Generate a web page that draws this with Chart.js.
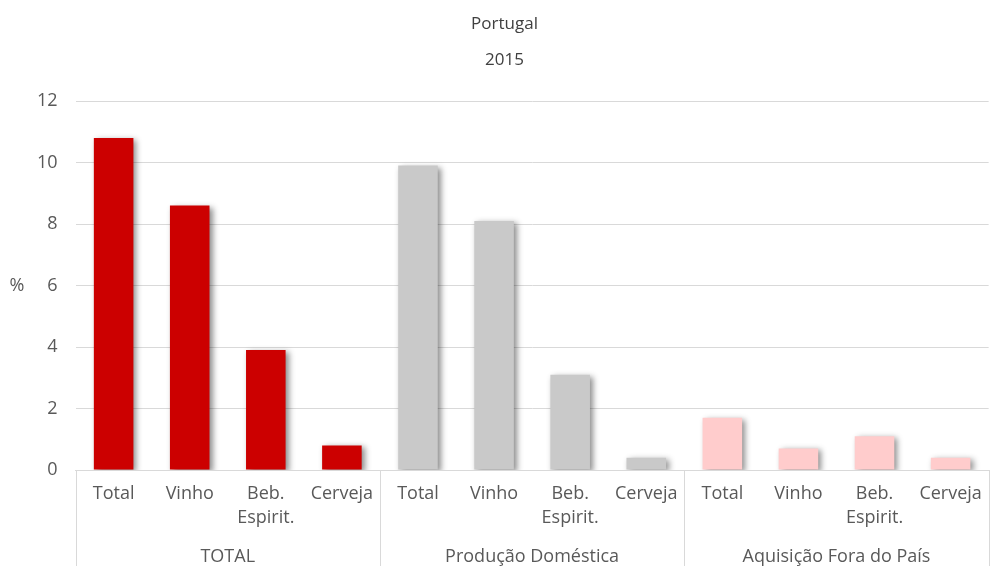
<!DOCTYPE html>
<html>
<head>
<meta charset="utf-8">
<script src="https://cdn.jsdelivr.net/npm/chart.js@4/dist/chart.umd.min.js"></script>
<style>
  html, body { margin: 0; padding: 0; background: #fff; }
  #wrap { width: 994px; height: 566px; position: relative; }
</style>
</head>
<body>
<div id="wrap"><canvas id="c" width="994" height="566"></canvas></div>
<script>
// ---- data ----
const groups = ['TOTAL', 'Produção Doméstica', 'Aquisição Fora do País'];
const subCategories = [['Total'], ['Vinho'], ['Beb.', 'Espirit.'], ['Cerveja']];
const totalValues = [10.8, 8.6, 3.9, 0.8];
const domesticValues = [9.9, 8.1, 3.1, 0.4];
const abroadValues = [1.7, 0.7, 1.1, 0.4];
const groupColors = ['#CC0000', '#C9C9C9', '#FFCCCC'];
const yTicks = [0, 2, 4, 6, 8, 10, 12];
const titleLines = ['Portugal', '2015'];
const yUnit = '%';

// build
const labels = [];
const values = [];
const colors = [];
[totalValues, domesticValues, abroadValues].forEach((arr, g) => {
  arr.forEach((v, i) => {
    labels.push(subCategories[i]);
    values.push(v);
    colors.push(groupColors[g]);
  });
});

const FONT = "'Open Sans', 'DejaVu Sans', sans-serif";
const TXT = '#595959';

const shadowPlugin = {
  id: 'barShadow',
  beforeDatasetsDraw(chart) {
    const ctx = chart.ctx;
    ctx.save();
    ctx.shadowColor = 'rgba(0,0,0,0.45)';
    ctx.shadowBlur = 6;
    ctx.shadowOffsetX = 3;
    ctx.shadowOffsetY = 2;
  },
  afterDatasetsDraw(chart) {
    chart.ctx.restore();
  }
};

const extrasPlugin = {
  id: 'extras',
  afterDraw(chart) {
    const ctx = chart.ctx;
    const x = chart.scales.x;
    const area = chart.chartArea;
    const n = labels.length;
    const per = subCategories.length;
    const half = (x.getPixelForValue(1) - x.getPixelForValue(0)) / 2;
    ctx.save();
    ctx.strokeStyle = '#D9D9D9';
    ctx.lineWidth = 1;
    for (let g = 0; g <= groups.length; g++) {
      let px = g * per < n ? x.getPixelForValue(g * per) - half : x.getPixelForValue(n - 1) + half;
      px = Math.round(px) + 0.5;
      ctx.beginPath();
      ctx.moveTo(px, area.bottom);
      ctx.lineTo(px, chart.height);
      ctx.stroke();
    }
    ctx.fillStyle = TXT;
    ctx.font = '18px ' + FONT;
    ctx.textAlign = 'center';
    ctx.textBaseline = 'middle';
    // group labels, centred under each group of categories
    groups.forEach((gName, g) => {
      const left = x.getPixelForValue(g * per) - half;
      const right = x.getPixelForValue(g * per + per - 1) + half;
      ctx.fillText(gName, (left + right) / 2, area.bottom + 87);
    });
    // unit label
    ctx.fillText(yUnit, 17, chart.scales.y.getPixelForValue(6));
    ctx.restore();
  }
};

new Chart(document.getElementById('c'), {
  type: 'bar',
  data: {
    labels: labels,
    datasets: [{
      data: values,
      backgroundColor: colors,
      borderWidth: 0,
      barPercentage: 0.52,
      categoryPercentage: 1.0
    }]
  },
  options: {
    responsive: false,
    animation: false,
    events: [],
    layout: { padding: { left: 19, right: 4, top: 0, bottom: 24 } },
    plugins: {
      legend: { display: false },
      tooltip: { enabled: false },
      title: {
        display: true,
        text: titleLines,
        color: '#404040',
        font: { family: FONT, size: 17, weight: 'normal', lineHeight: 2.118 },
        padding: { top: 6, bottom: 23 }
      }
    },
    scales: {
      y: {
        min: 0, max: 12,
        afterBuildTicks(scale) { scale.ticks = yTicks.map(v => ({ value: v })); },
        grid: { color: '#D9D9D9', drawTicks: false },
        border: { display: false },
        ticks: { color: TXT, font: { family: FONT, size: 18 }, padding: 18 }
      },
      x: {
        grid: { display: false, drawTicks: false },
        border: { display: true, color: '#D9D9D9' },
        ticks: { color: TXT, font: { family: FONT, size: 18, lineHeight: 1.333 }, padding: 12, maxRotation: 0, autoSkip: false }
      }
    }
  },
  plugins: [shadowPlugin, extrasPlugin]
});
</script>
</body>
</html>
